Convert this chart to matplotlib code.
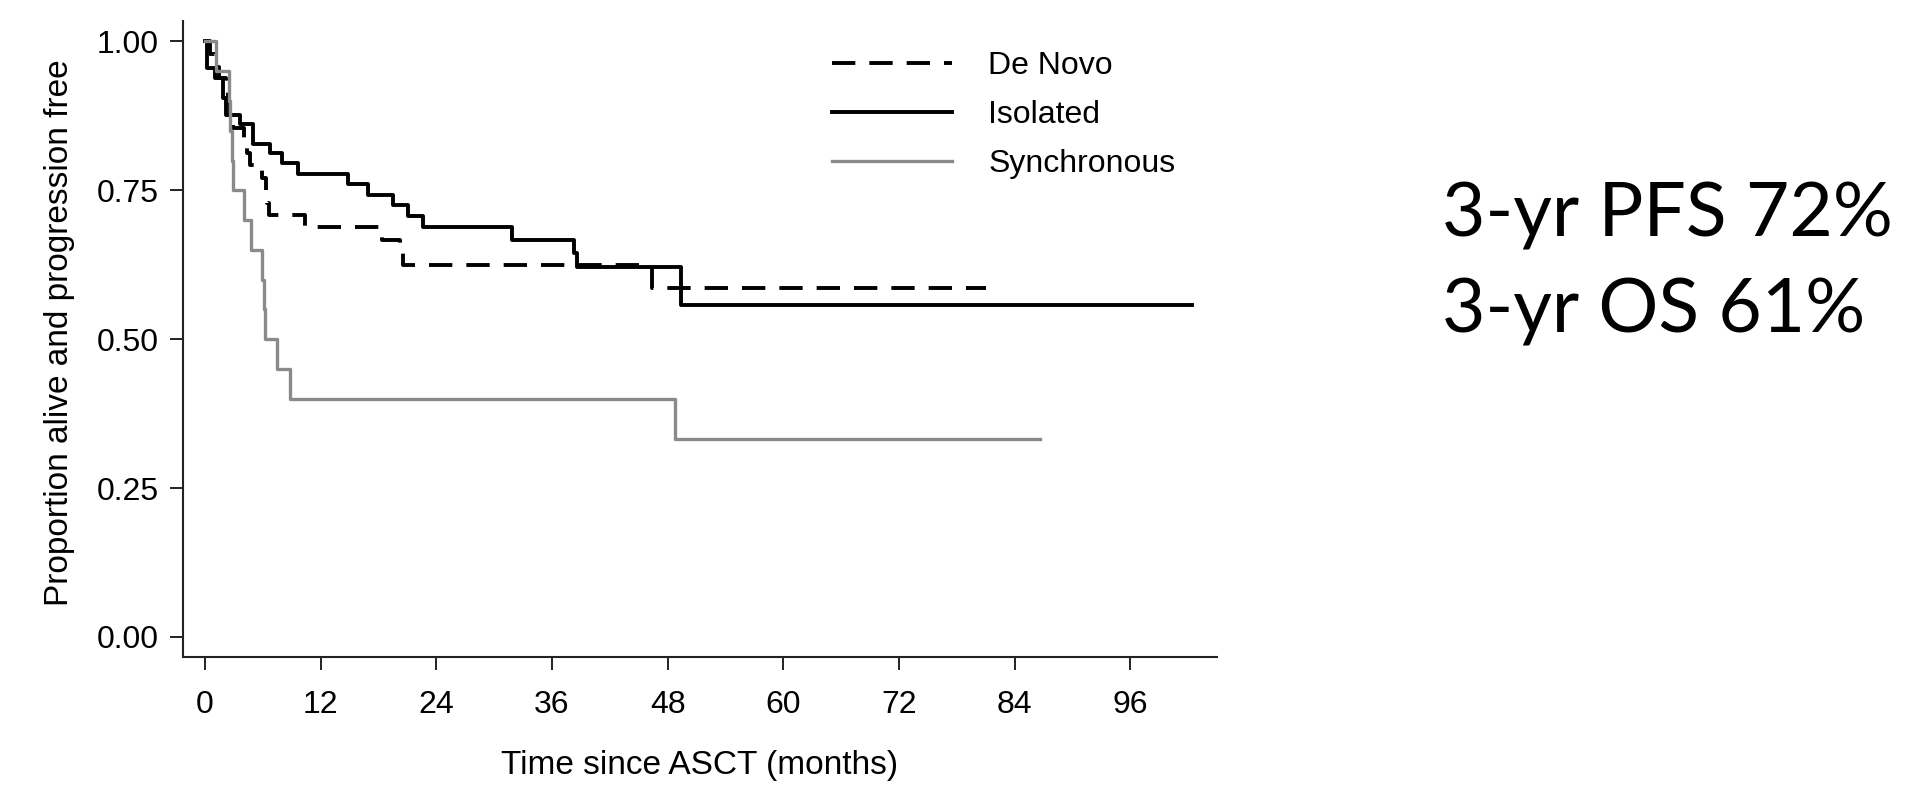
import matplotlib
matplotlib.use("Agg")
import matplotlib.pyplot as plt

# Kaplan-Meier step data (months, proportion)
denovo_t = [0, 0.5, 1.0, 1.5, 2.2, 2.4, 2.6, 2.9, 4.0, 4.4, 4.7, 5.9, 6.3, 6.4, 6.6, 10.4, 18.4, 20.2, 20.5, 46.4, 81.0]
denovo_s = [1.0, 0.979, 0.958, 0.938, 0.917, 0.896, 0.875, 0.854, 0.833, 0.812, 0.792, 0.771, 0.750, 0.729, 0.708,
            0.688, 0.667, 0.646, 0.625, 0.586, 0.586]

isolated_t = [0, 0.2, 1.0, 1.9, 2.2, 3.6, 5.0, 6.8, 8.0, 9.7, 14.8, 16.9, 19.5, 21.1, 22.6, 31.9, 38.3, 38.6, 49.4, 102.4]
isolated_s = [1.0, 0.955, 0.938, 0.905, 0.877, 0.862, 0.828, 0.812, 0.796, 0.777, 0.760, 0.743, 0.726, 0.707, 0.688,
              0.667, 0.645, 0.622, 0.557, 0.557]

sync_t = [0, 1.1, 2.5, 2.6, 2.8, 2.9, 4.0, 4.8, 5.9, 6.1, 6.2, 7.5, 8.8, 48.8, 86.6]
sync_s = [1.0, 0.95, 0.90, 0.85, 0.80, 0.75, 0.70, 0.65, 0.60, 0.55, 0.50, 0.45, 0.40, 0.333, 0.333]

x_ticks = [0, 12, 24, 36, 48, 60, 72, 84, 96]
y_ticks = [0.0, 0.25, 0.5, 0.75, 1.0]
y_tick_labels = ["0.00", "0.25", "0.50", "0.75", "1.00"]
summary_lines = ["3-yr PFS 72%", "3-yr OS 61%"]

plt.rcParams["font.family"] = ["Liberation Sans", "DejaVu Sans"]

fig = plt.figure(figsize=(19.16, 7.87), dpi=100)
ax = fig.add_axes([0.0955, 0.1652, 0.5397, 0.8075])

ax.step(denovo_t, denovo_s, where="post", color="black", lw=2.8, linestyle=(0, (6.0, 3.6)), label="De Novo")
ax.step(isolated_t, isolated_s, where="post", color="black", lw=2.8, label="Isolated")
ax.step(sync_t, sync_s, where="post", color="#8a8a8a", lw=2.4, label="Synchronous")

ax.set_xlim(-2.28, 105.0)
ax.set_ylim(-0.0336, 1.0336)
ax.set_xticks(x_ticks)
ax.set_yticks(y_ticks)
ax.set_yticklabels(y_tick_labels)

for side in ["top", "right"]:
    ax.spines[side].set_visible(False)
for side in ["left", "bottom"]:
    ax.spines[side].set_linewidth(1.5)
    ax.spines[side].set_color("#222222")

ax.tick_params(axis="both", direction="out", length=9.5, width=1.4, color="#222222", labelsize=23)
ax.tick_params(axis="x", pad=14)
ax.tick_params(axis="y", pad=8)

ax.set_xlabel("Time since ASCT (months)", fontsize=24, va="center")
ax.xaxis.set_label_coords(0.5, -0.1715)
ax.set_ylabel("Proportion alive and progression free", fontsize=24, va="center")
ax.yaxis.set_label_coords(-0.119, 0.511)

ax.legend(loc="upper left", bbox_to_anchor=(0.4342, 0.935), bbox_transform=fig.transFigure,
          frameon=False, fontsize=23, handlelength=3.75, handletextpad=1.15,
          labelspacing=0.6, borderpad=0, borderaxespad=0)

fig.text(1442 / 1916, 1 - 236 / 787, summary_lines[0], fontsize=54, family="Lato", va="baseline", ha="left")
fig.text(1442 / 1916, 1 - 333 / 787, summary_lines[1], fontsize=54, family="Lato", va="baseline", ha="left")

fig.savefig("out.png", dpi=100, facecolor="white")
